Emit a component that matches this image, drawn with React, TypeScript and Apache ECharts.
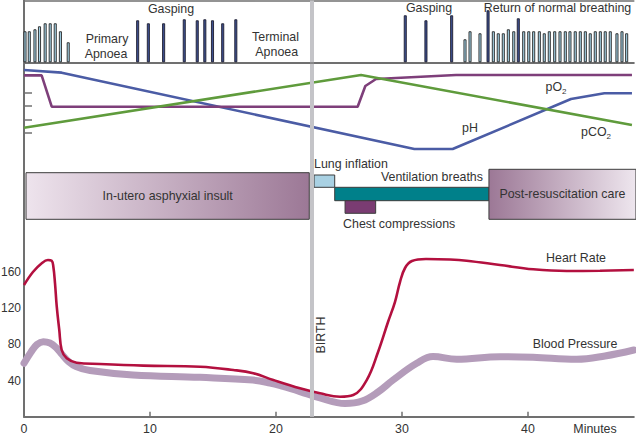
import React, { useEffect, useRef } from "react";
import * as echarts from "echarts";

// ---------- DATA ----------
const X_MAX = 48.4; // minutes shown
const BIRTH_MIN = 22.8;

// Breathing pattern (top panel): time (min) and breath amplitude
const NORMAL_T = [0.08, 0.42, 0.87, 1.23, 1.68, 2.08, 2.48, 2.89, 3.51,
  35.0, 35.4, 36.19, 37.25, 37.64, 38.04, 38.44, 38.87, 39.66, 40.06, 40.45, 40.9, 41.29, 41.69,
  42.12, 42.54, 42.96, 43.33, 43.75, 44.15, 44.55, 44.94, 45.34, 45.74, 46.13, 46.53, 47.06, 47.46, 47.83];
const NORMAL_H = [31, 31, 33, 36, 39, 39, 39, 31, 20,
  23, 31, 29, 31, 29, 29, 33, 31, 31, 31, 31, 31, 29, 31,
  31, 31, 31, 31, 31, 31, 31, 29, 31, 31, 31, 31, 29, 31, 29];
const GASP_T = [9.02, 9.87, 11.08, 12.72, 13.75, 14.35, 14.96, 15.77, 16.81, 30.26, 31.9, 33.94, 36.83, 39.23];
const GASP_H = [42, 39, 39, 43, 42, 43, 42, 39, 43, 47, 42, 47, 52, 44];

// Blood gases (middle panel, relative units)
const PH_T = [0, 2.99, 30.98, 34.02, 43.41, 46.06, 48.25];
const PH_V = [6.67, 6.47, 0.81, 0.81, 4.52, 4.94, 4.94];
const PO2_T = [0, 1.4, 2.2, 26.48, 27.09, 27.94, 34.29, 48.25];
const PO2_V = [6.27, 6.27, 3.95, 3.95, 5.48, 6.0, 6.3, 6.3];
const PCO2_T = [0, 26.75, 48.25];
const PCO2_V = [2.39, 6.3, 2.59];

// Interventions (time spans in minutes)
const INTERVENTION_NAMES = ["In-utero asphyxial insult", "Lung inflation", "Ventilation breaths", "Chest compressions", "Post-resuscitation care"];
const INTERVENTION_START = [0.16, 23.02, 24.66, 25.48, 36.9];
const INTERVENTION_END = [22.64, 24.66, 36.9, 27.91, 48.57];

// Heart rate (bpm)
const HR_T = [0, 0.71, 1.43, 1.9, 2.2, 2.33, 2.46, 2.6, 2.8, 2.99, 3.39, 4.18, 6.03, 9.47, 13.97, 16.61, 18.2, 19.79,
  21.9, 23.49, 25.08, 26.13, 27.2, 28.1, 28.89, 29.44, 29.84, 30.24, 30.79, 31.9, 33.81, 35.13, 37.78, 40.42, 43.07, 45.71, 48.4];
const HR_V = [145.5, 159.9, 169.9, 173.1, 172.4, 165.7, 147.7, 121.5, 95.8, 73.7, 64.5, 59.7, 58.2, 56.4, 55.2, 51.6, 48.0, 40.5,
  31.4, 25.9, 22.1, 24.0, 40.5, 71.5, 104.6, 126.7, 148.8, 164.3, 172.0, 174.2, 173.7, 172.4, 167.6, 162.9, 161.0, 161.3, 162.1];

// Blood pressure (mmHg)
const BP_T = [0, 0.56, 1.03, 1.53, 2.06, 2.54, 3.02, 3.49, 4.13, 5.24, 8.65, 13.97, 18.17, 19.52, 20.56, 21.9, 23.49, 25.48,
  26.83, 28.1, 29.29, 31.17, 32.46, 34.34, 37.78, 40.4, 43.86, 46.11, 48.4];
const BP_V = [59.0, 71.5, 79.8, 82.9, 81.4, 76.5, 68.7, 61.5, 55.5, 51.0, 46.1, 43.5, 40.5, 37.2, 33.4, 27.8, 20.7, 14.6,
  17.3, 27.3, 40.5, 59.0, 66.5, 63.4, 66.3, 65.6, 63.4, 67.1, 73.7];

const X_TICKS = [0, 10, 20, 30, 40];
const Y_TICKS = [40, 80, 120, 160];
const GAS_TICKS = [2, 3, 4, 5];

// ---------- STYLE ----------
const FONT = "Liberation Sans, Arial, Helvetica, sans-serif";
const FS = 12.4;
const AXIS = "#707070";
const TXT = "#333333";

const zip = (t: number[], v: number[]) => t.map((x, i) => [x, v[i]]);

const BOX_STYLE = [
  { top: 172.7, bottom: 219.3, fill: "gradR", label: "center" },
  { top: 175, bottom: 187.3, fill: "#a9d1e3", label: "aboveLeft" },
  { top: 187.3, bottom: 200.7, fill: "#00808a", label: "aboveRight" },
  { top: 200.7, bottom: 213.3, fill: "#7a3c72", label: "belowLeft" },
  { top: 169.3, bottom: 219.3, fill: "gradL", label: "center" },
];

const txt = (text: string, x: number, y: number, align = "center", extra: any = {}) => ({
  type: "text",
  x,
  y,
  silent: true,
  style: { text, fill: TXT, fontSize: FS, fontFamily: FONT, align, verticalAlign: "middle", ...extra },
});

const subTxt = (main: string, x: number, y: number) => ({
  type: "text",
  x,
  y,
  silent: true,
  style: {
    text: `{a|${main}}{b|2}`,
    align: "center",
    verticalAlign: "middle",
    rich: {
      a: { fontSize: FS, fontFamily: FONT, fill: TXT, lineHeight: 16, verticalAlign: "middle" },
      b: { fontSize: 8, fontFamily: FONT, fill: TXT, lineHeight: 8, verticalAlign: "bottom" },
    },
  },
});

export default function App() {
  const ref = useRef<HTMLDivElement>(null);
  useEffect(() => {
    if (!ref.current) return;
    const chart = echarts.init(ref.current, undefined, { renderer: "svg" });
    const gradR = () =>
      new echarts.graphic.LinearGradient(0, 0, 1, 0, [
        { offset: 0, color: "#eee4ed" },
        { offset: 1, color: "#9c7896" },
      ]);
    const gradL = () =>
      new echarts.graphic.LinearGradient(0, 0, 1, 0, [
        { offset: 0, color: "#9c7896" },
        { offset: 1, color: "#eee6ee" },
      ]);

    const gridBase = { left: 24, right: 2.16, containLabel: false, outerBoundsMode: "none" };
    const hiddenX = (gi: number) => ({
      gridIndex: gi, type: "value", min: 0, max: X_MAX,
      axisLine: { show: false }, axisTick: { show: false }, axisLabel: { show: false }, splitLine: { show: false },
    });

    const option: any = {
      animation: false,
      backgroundColor: "#ffffff",
      textStyle: { fontFamily: FONT },
      grid: [
        { ...gridBase, top: 0.5, height: 61.8 },
        { ...gridBase, top: 65.5, height: 94.5 },
        { ...gridBase, top: 63.75, height: 352.95 },
      ],
      xAxis: [
        {
          gridIndex: 0, type: "value", min: 0, max: X_MAX,
          axisLine: { show: true, onZero: false, lineStyle: { color: AXIS, width: 2 } },
          axisTick: { show: false }, axisLabel: { show: false }, splitLine: { show: false },
        },
        {
          gridIndex: 0, type: "value", position: "top", min: 0, max: X_MAX,
          axisLine: { show: true, onZero: false, lineStyle: { color: AXIS, width: 1.5 } },
          axisTick: { show: false }, axisLabel: { show: false }, splitLine: { show: false },
        },
        hiddenX(1),
        {
          gridIndex: 2, type: "value", min: 0, max: X_MAX,
          axisLine: { show: true, onZero: false, lineStyle: { color: AXIS, width: 2 } },
          axisTick: { show: true, inside: true, length: 5, customValues: X_TICKS.slice(1), lineStyle: { color: AXIS, width: 1.5 } },
          axisLabel: { show: true, customValues: X_TICKS, margin: 6, color: TXT, fontSize: FS, fontFamily: FONT },
          splitLine: { show: false },
        },
      ],
      yAxis: [
        {
          gridIndex: 0, type: "value", min: 0, max: 61.8,
          axisLine: { show: true, onZero: false, lineStyle: { color: AXIS, width: 2 } },
          axisTick: { show: false }, axisLabel: { show: false }, splitLine: { show: false },
        },
        {
          gridIndex: 1, type: "value", min: 0, max: 7,
          axisLine: { show: false },
          axisTick: { show: true, inside: true, length: 8, customValues: GAS_TICKS, lineStyle: { color: AXIS, width: 1.5 } },
          axisLabel: { show: false }, splitLine: { show: false },
        },
        {
          gridIndex: 2, type: "value", min: 0, max: 390,
          axisLine: { show: true, onZero: false, lineStyle: { color: AXIS, width: 2 } },
          axisTick: { show: false },
          axisLabel: { show: true, customValues: Y_TICKS, margin: 3, color: TXT, fontSize: 12, fontFamily: FONT },
          splitLine: { show: false },
        },
      ],
      series: [
        {
          name: "Normal breathing", type: "bar", xAxisIndex: 0, yAxisIndex: 0,
          data: zip(NORMAL_T, NORMAL_H), barWidth: 3, barGap: "-100%",
          itemStyle: { color: "#a2d0e4", borderColor: "#262626", borderWidth: 0.9 },
          markLine: {
            silent: true, symbol: ["none", "none"], label: { show: false },
            lineStyle: { color: "#c4c4c8", width: 4, type: "solid" },
            data: [{ xAxis: BIRTH_MIN }],
          },
        },
        {
          name: "Gasping", type: "bar", xAxisIndex: 0, yAxisIndex: 0,
          data: zip(GASP_T, GASP_H), barWidth: 3, barGap: "-100%",
          itemStyle: { color: "#3d4f8e", borderColor: "#1e1e30", borderWidth: 0.9 },
        },
        {
          name: "pH", type: "line", xAxisIndex: 2, yAxisIndex: 1, data: zip(PH_T, PH_V),
          showSymbol: false, lineStyle: { color: "#4b5ca5", width: 2.6 }, itemStyle: { color: "#4b5ca5" },
        },
        {
          name: "pO2", type: "line", xAxisIndex: 2, yAxisIndex: 1, data: zip(PO2_T, PO2_V),
          showSymbol: false, lineStyle: { color: "#7e3f7a", width: 2.6 }, itemStyle: { color: "#7e3f7a" },
        },
        {
          name: "pCO2", type: "line", xAxisIndex: 2, yAxisIndex: 1, data: zip(PCO2_T, PCO2_V),
          showSymbol: false, lineStyle: { color: "#5f9b3c", width: 2.6 }, itemStyle: { color: "#5f9b3c" },
        },
        {
          name: "Birth", type: "line", xAxisIndex: 3, yAxisIndex: 2, z: 1,
          data: [[BIRTH_MIN, 0]], showSymbol: false, lineStyle: { opacity: 0 },
          markLine: {
            silent: true, symbol: ["none", "none"], label: { show: false },
            lineStyle: { color: "#c4c4c8", width: 4, type: "solid" },
            data: [{ xAxis: BIRTH_MIN }],
          },
        },
        {
          name: "Interventions", type: "custom", xAxisIndex: 3, yAxisIndex: 2, clip: false,
          data: INTERVENTION_NAMES.map((_, i) => [INTERVENTION_START[i], INTERVENTION_END[i], i]),
          encode: { x: [0, 1] },
          renderItem: (_params: any, api: any) => {
            const i = api.value(2) as number;
            const x0 = api.coord([api.value(0), 0])[0];
            const x1 = api.coord([api.value(1), 0])[0];
            const s = BOX_STYLE[i];
            const fill = s.fill === "gradR" ? gradR() : s.fill === "gradL" ? gradL() : s.fill;
            let tx = (x0 + x1) / 2;
            let ty = (s.top + s.bottom) / 2;
            let align = "center";
            if (s.label === "aboveLeft") { tx = x0; ty = s.top - 11; align = "left"; }
            if (s.label === "aboveRight") { tx = x1 - 6; ty = s.top - 10; align = "right"; }
            if (s.label === "belowLeft") { tx = x0 - 2; ty = s.bottom + 11; align = "left"; }
            return {
              type: "group",
              children: [
                {
                  type: "rect",
                  shape: { x: x0, y: s.top, width: x1 - x0, height: s.bottom - s.top },
                  style: { fill, stroke: "#3c3c3c", lineWidth: 1 },
                },
                {
                  type: "text", x: tx, y: ty,
                  style: { text: INTERVENTION_NAMES[i], fill: TXT, fontSize: FS, fontFamily: FONT, align, verticalAlign: "middle" },
                },
              ],
            };
          },
        },
        {
          name: "Blood Pressure", type: "line", xAxisIndex: 3, yAxisIndex: 2, data: zip(BP_T, BP_V),
          smooth: 0.4, showSymbol: false,
          lineStyle: { color: "#b49cba", width: 7, cap: "round" }, itemStyle: { color: "#b49cba" },
        },
        {
          name: "Heart Rate", type: "line", xAxisIndex: 3, yAxisIndex: 2, data: zip(HR_T, HR_V),
          smooth: 0.4, showSymbol: false,
          lineStyle: { color: "#b3103f", width: 2.6 }, itemStyle: { color: "#b3103f" },
        },
      ],
      graphic: [
        txt("Gasping", 171, 8.5),
        txt("Primary", 107, 39),
        txt("Apnoea", 106, 54),
        txt("Terminal", 275.5, 36.5),
        txt("Apnoea", 276.7, 52),
        txt("Gasping", 429, 8),
        txt("Return of normal breathing", 557.5, 8),
        subTxt("pO", 556, 87),
        txt("pH", 470, 128),
        subTxt("pCO", 596, 132),
        txt("Heart Rate", 576, 257.5),
        txt("Blood Pressure", 575, 344),
        txt("Minutes", 595, 429),
        { ...txt("BIRTH", 321, 335), rotation: Math.PI / 2 },
      ],
    };
    chart.setOption(option);
    return () => chart.dispose();
  }, []);
  return <div ref={ref} style={{ position: "fixed", left: 0, top: 0, width: 636, height: 436, background: "#fff" }} />;
}
